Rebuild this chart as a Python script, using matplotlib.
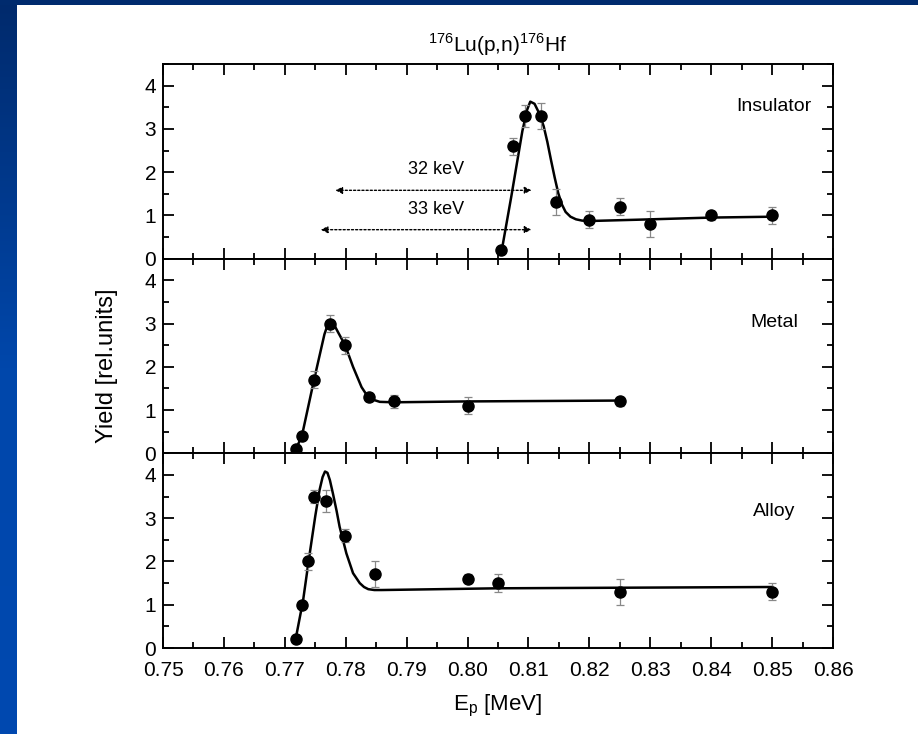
import numpy as np
import matplotlib
matplotlib.use('Agg')
import matplotlib.pyplot as plt
from matplotlib.ticker import MultipleLocator, FormatStrFormatter

plt.rcParams['font.family'] = ['Liberation Sans', 'DejaVu Sans']

# Insulator
ins_x = [0.8055, 0.8075, 0.8095, 0.812, 0.8145, 0.82, 0.825, 0.83, 0.84, 0.85]
ins_y = [0.2, 2.6, 3.3, 3.3, 1.3, 0.9, 1.2, 0.8, 1.0, 1.0]
ins_err = [0.0, 0.2, 0.25, 0.3, 0.3, 0.2, 0.2, 0.3, 0.1, 0.2]
ins_fit_x = [0.8055, 0.8072, 0.8090, 0.8098, 0.8103, 0.8110, 0.8118, 0.8125, 0.8131,
             0.8137, 0.8143, 0.8149, 0.8155, 0.8161, 0.8169, 0.8178, 0.8188,
             0.8199, 0.8278, 0.840, 0.850]
ins_fit_y = [0.1, 1.45, 2.95, 3.45, 3.63, 3.58, 3.35, 3.06, 2.70,
             2.28, 1.88, 1.51, 1.25, 1.08, 0.97, 0.91, 0.88,
             0.87, 0.90, 0.95, 0.97]

# Metal
met_x = [0.7718, 0.7728, 0.7748, 0.7774, 0.7799, 0.7838, 0.7879, 0.80, 0.825]
met_y = [0.1, 0.4, 1.7, 3.0, 2.5, 1.3, 1.2, 1.1, 1.2]
met_err = [0.0, 0.05, 0.2, 0.2, 0.2, 0.1, 0.15, 0.2, 0.1]
met_fit_x = [0.7715, 0.7728, 0.7748, 0.7765, 0.7771, 0.7776, 0.7781, 0.7787, 0.7799,
             0.7812, 0.7826, 0.7833, 0.7839, 0.7847, 0.7856, 0.7879, 0.80, 0.825]
met_fit_y = [0.0, 0.4, 1.7, 2.75, 3.0, 3.04, 2.97, 2.81, 2.5,
             2.0, 1.53, 1.38, 1.29, 1.23, 1.19, 1.18, 1.2, 1.22]

# Alloy
all_x = [0.7718, 0.7729, 0.7738, 0.7748, 0.7768, 0.7799, 0.7848, 0.80, 0.805, 0.825, 0.85]
all_y = [0.2, 1.0, 2.0, 3.5, 3.4, 2.6, 1.7, 1.6, 1.5, 1.3, 1.3]
all_err = [0.0, 0.0, 0.2, 0.15, 0.25, 0.15, 0.3, 0.1, 0.2, 0.3, 0.2]
all_fit_x = [0.7717, 0.7730, 0.7740, 0.7750, 0.7757, 0.7762, 0.7766, 0.7770, 0.7774,
             0.7779, 0.7785, 0.7790, 0.7796, 0.7801, 0.7812, 0.7823, 0.7830,
             0.7837, 0.7847, 0.7859, 0.805, 0.850]
all_fit_y = [0.15, 1.1, 2.1, 3.05, 3.65, 3.95, 4.08, 4.05, 3.88,
             3.57, 3.17, 2.8, 2.47, 2.19, 1.73, 1.5, 1.41,
             1.36, 1.34, 1.34, 1.38, 1.41]

panels = [
    ('Insulator', ins_x, ins_y, ins_err, ins_fit_x, ins_fit_y, 3.52),
    ('Metal', met_x, met_y, met_err, met_fit_x, met_fit_y, 3.02),
    ('Alloy', all_x, all_y, all_err, all_fit_x, all_fit_y, 3.16),
]

fig = plt.figure(figsize=(9.18, 7.34), dpi=100)

# blue slide border
bg = fig.add_axes([0, 0, 16.5 / 918, 1])
grad = np.linspace(0, 1, 256).reshape(-1, 1)
cmap = matplotlib.colors.LinearSegmentedColormap.from_list('b', ['#002a6c', '#0047ab', '#0049b0'])
bg.imshow(grad, aspect='auto', cmap=cmap, extent=[0, 1, 0, 1], origin='upper')
bg.axis('off')
top = fig.add_axes([0, 1 - 5 / 734, 1, 5 / 734])
top.set_facecolor('#002b6e')
top.set_xticks([])
top.set_yticks([])
for s in top.spines.values():
    s.set_visible(False)

left = 163 / 918
width = (833 - 163) / 918
bottom = 1 - 648 / 734
h = (648 - 64) / 734 / 3

axes = []
for i, (name, x, y, err, fx, fy, ty) in enumerate(panels):
    ax = fig.add_axes([left, bottom + (2 - i) * h, width, h])
    axes.append(ax)
    ax.plot(fx, fy, color='black', lw=1.8, zorder=3)
    ax.errorbar(x, y, yerr=err, fmt='o', color='black', ms=8,
                ecolor='#888888', elinewidth=0.9, capsize=3, capthick=0.9, zorder=4)
    ax.set_xlim(0.75, 0.86)
    ax.set_ylim(0, 4.5)
    ax.xaxis.set_major_locator(MultipleLocator(0.01))
    ax.xaxis.set_minor_locator(MultipleLocator(0.005))
    ax.yaxis.set_major_locator(MultipleLocator(1))
    ax.yaxis.set_minor_locator(MultipleLocator(0.5))
    ax.xaxis.set_major_formatter(FormatStrFormatter('%.2f'))
    ax.tick_params(which='both', direction='in', top=True, right=True, width=1.3,
                   labelsize=15)
    ax.tick_params(which='major', length=8)
    ax.tick_params(which='minor', length=4.5)
    ax.tick_params(axis='x', pad=9)
    ax.tick_params(axis='y', pad=5)
    for s in ax.spines.values():
        s.set_linewidth(1.4)
    ax.text(0.912, ty, name, transform=ax.get_yaxis_transform(),
            ha='center', va='center', fontsize=14)
    if i < 2:
        ax.tick_params(labelbottom=False)

# energy shift arrows
ax0 = axes[0]
ax0.annotate('', xy=(0.8105, 1.58), xytext=(0.7783, 1.58),
             arrowprops=dict(arrowstyle='<|-|>', linestyle=(0, (1.5, 1.5)), lw=1,
                             color='black', mutation_scale=10, shrinkA=0, shrinkB=0))
ax0.annotate('', xy=(0.8105, 0.67), xytext=(0.7759, 0.67),
             arrowprops=dict(arrowstyle='<|-|>', linestyle=(0, (1.5, 1.5)), lw=1,
                             color='black', mutation_scale=10, shrinkA=0, shrinkB=0))
ax0.text(0.7949, 2.05, '32 keV', ha='center', va='center', fontsize=13)
ax0.text(0.7949, 1.14, '33 keV', ha='center', va='center', fontsize=13)

ax0.set_title(r'$^\mathregular{176}$Lu(p,n)$^\mathregular{176}$Hf', fontsize=15, pad=9)
axes[1].set_ylabel('Yield [rel.units]', fontsize=17)
axes[1].yaxis.set_label_coords(-0.067, 0.45)
axes[2].set_xlabel(r'E$_\mathregular{p}$ [MeV]', fontsize=16, labelpad=10)

plt.savefig('out.png', dpi=100)
